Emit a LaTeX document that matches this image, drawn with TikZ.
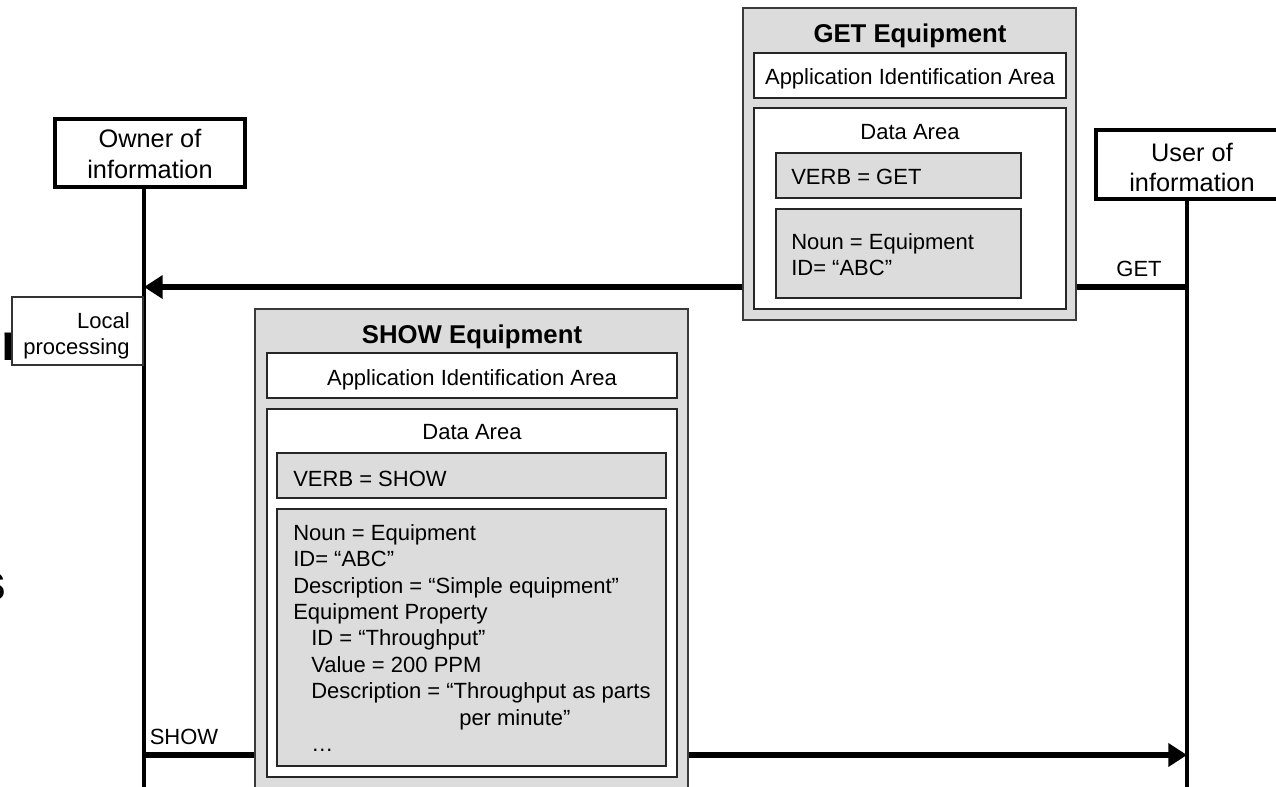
\documentclass[tikz,border=0pt]{standalone}
\usepackage{fontspec}
\setmainfont{Liberation Sans}
\usetikzlibrary{arrows.meta,fit}
\definecolor{boxgray}{HTML}{DCDCDC}
\definecolor{edgegray}{HTML}{3A3A3A}
\tikzset{
  outerbox/.style={draw=edgegray, fill=boxgray, line width=1.1pt, inner sep=0pt},
  whitebox/.style={draw=black!85, fill=white, line width=1.1pt, inner sep=0pt},
  graybox/.style={draw=black!85, fill=boxgray, line width=1.1pt, inner sep=0pt},
  actor/.style={draw=black, fill=white, line width=3pt, inner sep=0pt, align=center,
                font=\fontsize{19}{23}\selectfont},
  lifeline/.style={line width=3pt, black},
  msg/.style={line width=4pt, black, -{Triangle[length=14pt,width=17pt]}},
  txt/.style={font=\fontsize{16.5}{19.8}\selectfont, inner sep=0pt},
  titletxt/.style={font=\bfseries\fontsize{19.3}{23}\selectfont, inner sep=0pt},
  fragtxt/.style={font=\bfseries\fontsize{39}{39}\selectfont, inner sep=0pt},
  localbox/.style={draw=black!80, fill=white, line width=0.8pt, inner sep=0pt},
}
\begin{document}
\begin{tikzpicture}[x=0.75pt,y=-0.75pt]
\useasboundingbox (0,0) rectangle (1276,786);
\clip (0,0) rectangle (1276,786);
\fill[white] (0,0) rectangle (1276,786);

% background text fragments at the left edge
\node[fragtxt, anchor=base west] (fragn) at (1.4,360) {n};
\node[fragtxt, anchor=base east] (frags) at (6.4,600) {s};

% actors
\node[actor, fit={(55,119) (245,187)}] (owner) {};
\node[txt, font=\fontsize{19}{23.25}\selectfont, align=center, anchor=north] (ownertxt) at (150,129) {Owner of\\information};
\node[actor, fit={(1096,130) (1288,199)}] (user) {};
\node[txt, font=\fontsize{19}{22.5}\selectfont, align=center, anchor=north] (usertxt) at (1192,143) {User of\\information};

% lifelines
\coordinate (o1) at (144,187);
\coordinate (o2) at (144,800);
\coordinate (u1) at (1187,199);
\coordinate (u2) at (1187,800);
\draw[lifeline] (o1) -- (o2);
\draw[lifeline] (u1) -- (u2);

% messages
\coordinate (getstart) at (1187,287);
\coordinate (getend) at (144,287);
\coordinate (showstart) at (144,755);
\coordinate (showend) at (1187,755);
\draw[msg] (getstart) -- (getend);
\draw[msg] (showstart) -- (showend);
\node[txt, anchor=base] (getlbl) at (1139,276) {GET};
\node[txt, anchor=base] (showlbl) at (184,744) {SHOW};

% local processing
\node[localbox, fit={(12,297) (143,365)}] (local) {};
\node[txt, align=right, anchor=north east] (localtxt) at (130,312) {Local\\processing};

% GET Equipment message
\node[outerbox, fit={(743,8) (1076,320)}] (getbox) {};
\node[titletxt, anchor=base] (gettitle) at (910,42) {GET Equipment};
\node[whitebox, fit={(754,53) (1066,98)}] (getapp) {};
\node[txt, anchor=base] (getapptxt) at (910,84) {Application Identification Area};
\node[whitebox, fit={(754,108) (1066,309)}] (getdata) {};
\node[txt, anchor=base] (getdatatxt) at (910,139) {Data Area};
\node[graybox, fit={(776,153) (1021,198)}] (getverb) {};
\node[txt, anchor=base west] (getverbtxt) at (791,184) {VERB = GET};
\node[graybox, fit={(776,209) (1021,298)}] (getnoun) {};
\node[txt, font=\fontsize{16.5}{20}\selectfont, align=left, anchor=north west] (getnountxt) at (791,233) {Noun = Equipment\\ID= “ABC”};

% SHOW Equipment message
\node[outerbox, fit={(255,309) (688,810)}] (showbox) {};
\node[titletxt, anchor=base] (showtitle) at (472,343) {SHOW Equipment};
\node[whitebox, fit={(267,353) (677,398)}] (showapp) {};
\node[txt, anchor=base] (showapptxt) at (472,385) {Application Identification Area};
\node[whitebox, fit={(267,409) (677,777)}] (showdata) {};
\node[txt, anchor=base] (showdatatxt) at (472,439) {Data Area};
\node[graybox, fit={(277,453) (666,498)}] (showverb) {};
\node[txt, anchor=base west] (showverbtxt) at (293,486) {VERB = SHOW};
\node[graybox, fit={(277,509) (666,766)}] (shownoun) {};
\node[txt, align=left, anchor=north west] (shownountxt) at (293,524) {Noun = Equipment\\
ID= “ABC”\\
Description = “Simple equipment”\\
Equipment Property\\
\hspace*{13.5pt}ID = “Throughput”\\
\hspace*{13.5pt}Value = 200 PPM\\
\hspace*{13.5pt}Description = “Throughput as parts\\
\hspace*{124.5pt}per minute”\\
\hspace*{13.5pt}…};
\end{tikzpicture}
\end{document}
